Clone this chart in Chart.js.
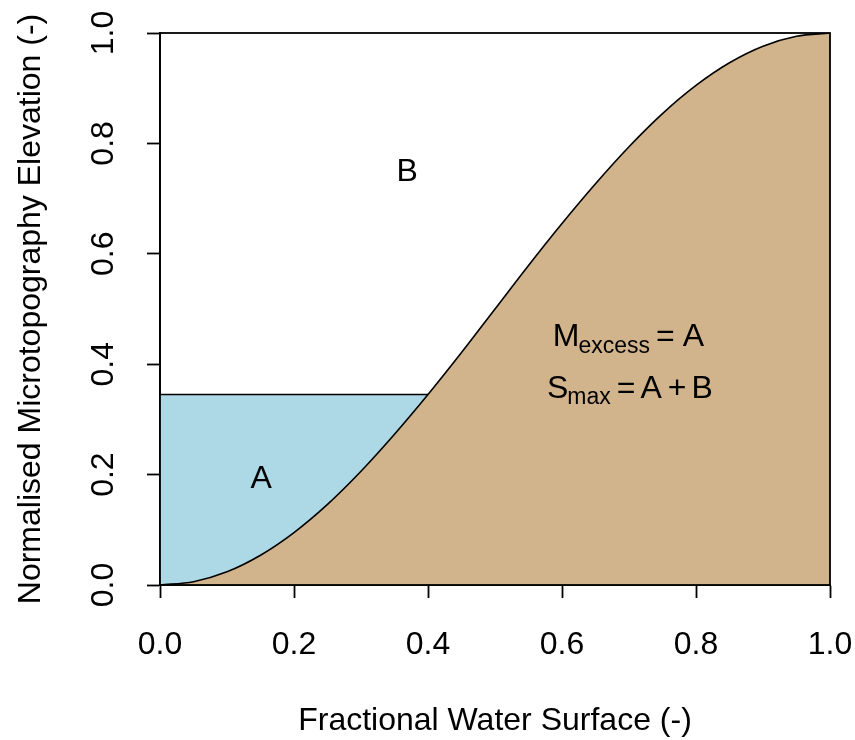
<!DOCTYPE html>
<html>
<head>
<meta charset="utf-8">
<title>Microtopography storage</title>
<script src="https://cdn.jsdelivr.net/npm/chart.js@4.4.1/dist/chart.umd.min.js"></script>
<style>
  html, body { margin: 0; padding: 0; background: #fff; }
  canvas { display: block; }
</style>
</head>
<body>
<canvas id="chart" width="855" height="740"></canvas>
<script>
// fractional water surface vs normalised elevation
const fraction = [0, 0.05, 0.1, 0.15, 0.2, 0.25, 0.3, 0.35, 0.4, 0.45, 0.5,
                  0.55, 0.6, 0.65, 0.7, 0.75, 0.8, 0.85, 0.9, 0.95, 1];
const elevation = [0, 0.006, 0.024, 0.054, 0.095, 0.146, 0.206, 0.273, 0.345, 0.421, 0.5,
                   0.579, 0.655, 0.727, 0.794, 0.854, 0.905, 0.946, 0.976, 0.994, 1];

// ponded water level and the surface fraction where it meets the ground
const waterLevel = 0.345;
const waterEdge = 0.4;

const tickValues = [0, 0.2, 0.4, 0.6, 0.8, 1];

const FONT = '"Liberation Sans", Arial, Helvetica, sans-serif';
const SAND = '#D2B48C';
const WATER = '#ADD8E6';

Chart.defaults.font.family = FONT;
Chart.defaults.font.size = 32;
Chart.defaults.color = '#000';

const ground = fraction.map((x, i) => ({ x, y: elevation[i] }));
const water = [{ x: 0, y: waterLevel }, { x: waterEdge, y: waterLevel }];

// text placed in data units
function drawAt(chart, text, x, y) {
  const { ctx, scales } = chart;
  ctx.fillText(text, scales.x.getPixelForValue(x), scales.y.getPixelForValue(y));
}

// [text, size, drop, gap after] pieces laid out from a data position
function drawFormula(chart, pieces, x, y) {
  const { ctx, scales } = chart;
  let px = scales.x.getPixelForValue(x);
  const py = scales.y.getPixelForValue(y);
  ctx.textAlign = 'left';
  ctx.textBaseline = 'alphabetic';
  pieces.forEach(([text, size, drop, gap]) => {
    ctx.font = size + 'px ' + FONT;
    ctx.fillText(text, px, py + drop);
    px += ctx.measureText(text).width + gap;
  });
}

const annotations = {
  id: 'annotations',
  afterDatasetsDraw(chart) {
    const { ctx, chartArea: a } = chart;
    ctx.save();
    ctx.strokeStyle = '#000';
    ctx.lineWidth = 1.8;
    ctx.strokeRect(a.left, a.top, a.right - a.left, a.bottom - a.top);

    ctx.fillStyle = '#000';
    ctx.font = '32px ' + FONT;
    ctx.textAlign = 'center';
    ctx.textBaseline = 'middle';
    drawAt(chart, 'A', 0.151, 0.192);
    drawAt(chart, 'B', 0.369, 0.748);

    drawFormula(chart, [
      ['M', 32, 0, -1], ['excess', 23, 7, 6], ['=', 32, 0, 8], ['A', 32, 0, 0]
    ], 0.5863, 0.433);
    drawFormula(chart, [
      ['S', 32, 0, -1], ['max', 23, 6, 6], ['=', 32, 0, 5], ['A', 32, 0, 6], ['+', 32, 0, 5], ['B', 32, 0, 0]
    ], 0.5776, 0.339);
    ctx.restore();
  }
};

const axisLine = { display: true, color: '#000', width: 1.8 };
const tickMarks = { display: true, drawOnChartArea: false, drawTicks: true, tickLength: 13, tickWidth: 1.8, tickColor: '#000' };

new Chart(document.getElementById('chart'), {
  type: 'line',
  data: {
    datasets: [
      {
        label: 'Ground',
        data: ground,
        borderColor: '#000',
        borderWidth: 1.6,
        backgroundColor: SAND,
        fill: 'origin',
        pointRadius: 0,
        cubicInterpolationMode: 'monotone'
      },
      {
        label: 'Water',
        data: water,
        borderColor: '#000',
        borderWidth: 1.6,
        backgroundColor: WATER,
        fill: 'origin',
        pointRadius: 0
      }
    ]
  },
  options: {
    responsive: false,
    animation: false,
    layout: { padding: { top: 33, right: 25, left: 0, bottom: 0 } },
    plugins: { legend: { display: false }, tooltip: { enabled: false } },
    scales: {
      x: {
        type: 'linear',
        min: 0,
        max: 1,
        afterBuildTicks: s => { s.ticks = tickValues.map(value => ({ value })); },
        afterFit: s => { s.height = 155; s.paddingLeft = 0; s.paddingRight = 0; },
        border: axisLine,
        grid: tickMarks,
        ticks: { padding: 28, maxRotation: 0, callback: v => v.toFixed(1) },
        title: { display: true, text: 'Fractional Water Surface (-)', padding: { top: 1, bottom: 0 } }
      },
      y: {
        type: 'linear',
        min: 0,
        max: 1,
        afterBuildTicks: s => { s.ticks = tickValues.map(value => ({ value })); },
        afterFit: s => { s.width = 160; s.paddingTop = 0; s.paddingBottom = 0; },
        border: axisLine,
        grid: tickMarks,
        ticks: { padding: 21, minRotation: 90, maxRotation: 90, crossAlign: 'center', callback: v => v.toFixed(1) },
        title: { display: true, text: 'Normalised Microtopography Elevation (-)', padding: { top: 12, bottom: 0 } }
      }
    }
  },
  plugins: [annotations]
});
</script>
</body>
</html>
